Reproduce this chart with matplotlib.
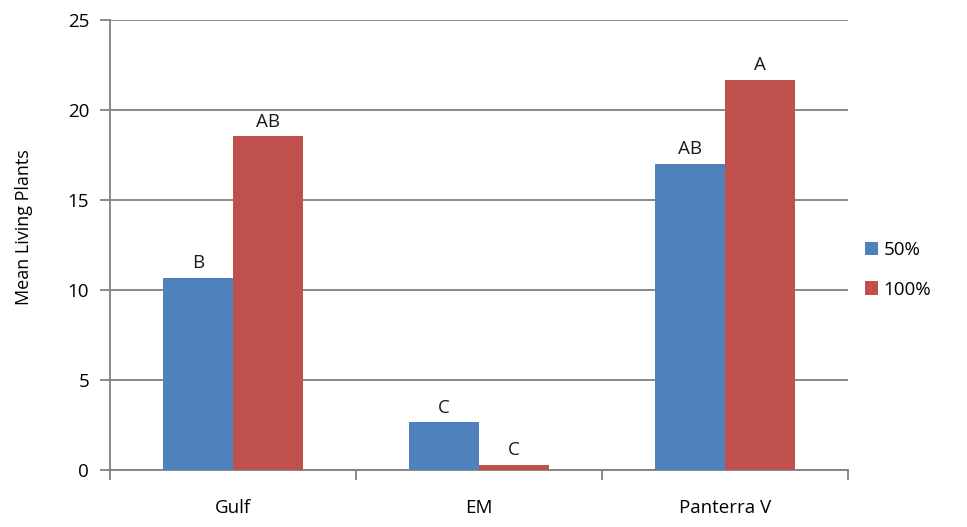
import numpy as np
import matplotlib.pyplot as plt

plt.rcParams['font.family'] = ['Open Sans', 'DejaVu Sans']

categories = ['Gulf', 'EM', 'Panterra V']
series_names = ['50%', '100%']
vals_50 = [10.68, 2.65, 17.0]
vals_100 = [18.55, 0.28, 21.67]
letters_50 = ['B', 'C', 'AB']
letters_100 = ['AB', 'C', 'A']

blue = '#4F81BD'
red = '#C0504D'
grid_c = '#808080'

fig = plt.figure(figsize=(9.67, 5.27), dpi=100)
ax = fig.add_axes([0.1138, 0.108, 0.763, 0.854])

x = np.arange(len(categories))
w = 0.285
b1 = ax.bar(x - w / 2, vals_50, w, color=blue, label=series_names[0], zorder=3)
b2 = ax.bar(x + w / 2, vals_100, w, color=red, label=series_names[1], zorder=3)

for bars, labs in [(b1, letters_50), (b2, letters_100)]:
    for rect, lab in zip(bars, labs):
        ax.annotate(lab, (rect.get_x() + rect.get_width() / 2, rect.get_height()),
                    xytext=(0, 4), textcoords='offset points',
                    ha='center', va='bottom', fontsize=13.5, color='#1a1a1a')

ax.set_xlim(-0.5, 2.5)
ax.set_ylim(0, 25)
ax.set_yticks(np.arange(0, 26, 5))
ax.yaxis.grid(True, color=grid_c, linewidth=1.3, zorder=0)
ax.set_axisbelow(True)

ax.set_xticks(x)
ax.set_xticklabels(categories, fontsize=13.5)
ax.set_xticks([-0.5, 0.5, 1.5, 2.5], minor=True)
ax.tick_params(axis='x', which='major', length=0, pad=21)
ax.tick_params(axis='x', which='minor', length=7, width=1.3, color=grid_c)
ax.tick_params(axis='y', length=7, width=1.3, color=grid_c, labelsize=13.5, pad=8)

for s in ['top', 'right']:
    ax.spines[s].set_visible(False)
for s in ['left', 'bottom']:
    ax.spines[s].set_color(grid_c)
    ax.spines[s].set_linewidth(1.3)

ax.set_ylabel('Mean Living Plants', fontsize=13)
ax.yaxis.set_label_coords(-0.105, 0.54)

ax.legend(loc='center left', bbox_to_anchor=(1.0, 0.445), frameon=False,
          fontsize=13.5, handlelength=0.7, handleheight=0.7, handletextpad=0.3,
          labelspacing=1.15)

fig.savefig('out.png', dpi=100)
